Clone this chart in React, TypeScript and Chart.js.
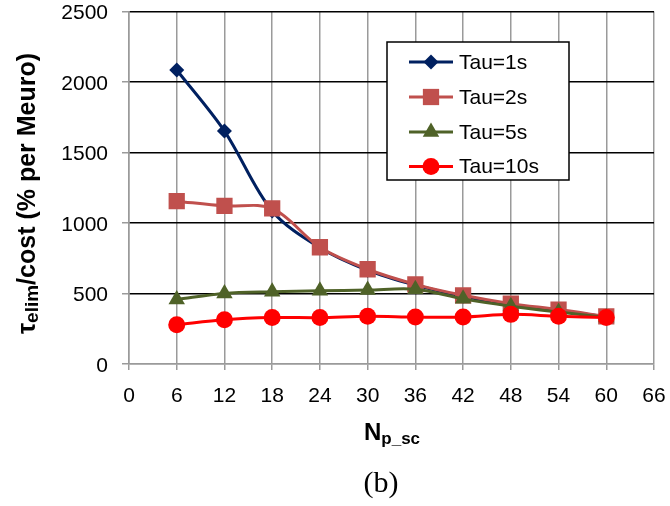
import React, { useEffect, useRef } from "react";
import { Chart, registerables } from "chart.js";

Chart.register(...registerables);

// ---------- data ----------
const xValues = [6, 12, 18, 24, 30, 36, 42, 48, 54, 60];
const seriesNames = ["Tau=1s", "Tau=2s", "Tau=5s", "Tau=10s"];
const tau1 = [2085, 1652, 1085, 825, 665, 560, 480, 420, 378, 335];
const tau2 = [1155, 1121, 1103, 828, 672, 565, 487, 428, 386, 337];
const tau5 = [458, 500, 512, 519, 524, 530, 462, 410, 368, 330];
const tau10 = [279, 314, 329, 329, 338, 333, 333, 352, 338, 329];
const xTicks = [0, 6, 12, 18, 24, 30, 36, 42, 48, 54, 60, 66];
const yTicks = [0, 500, 1000, 1500, 2000, 2500];
const xTitleMain = "N";
const xTitleSub = "p_sc";
const yTitleParts = ["τ", "elim", "/cost (% per Meuro)"];
const caption = "(b)";

// ---------- styles ----------
const colors = ["#002060", "#C0504D", "#4F6228", "#FF0000"];
const pointStyles = ["rectRot", "rect", "triangle", "circle"];
const pointRadii = [7.5, 11.5, 9.5, 8.5];
const FONT = '"Liberation Sans", Arial, sans-serif';
const GRAY = "#9a9a9a";

function drawMarker(ctx: CanvasRenderingContext2D, style: string, x: number, y: number, r: number) {
  ctx.beginPath();
  if (style === "circle") {
    ctx.arc(x, y, r, 0, Math.PI * 2);
  } else if (style === "rect") {
    const s = Math.SQRT1_2 * r;
    ctx.rect(x - s, y - s, 2 * s, 2 * s);
  } else if (style === "rectRot") {
    ctx.moveTo(x, y - r);
    ctx.lineTo(x + r, y);
    ctx.lineTo(x, y + r);
    ctx.lineTo(x - r, y);
    ctx.closePath();
  } else if (style === "triangle") {
    let a = 0;
    ctx.moveTo(x + Math.sin(a) * r, y - Math.cos(a) * r);
    a += (2 * Math.PI) / 3;
    ctx.lineTo(x + Math.sin(a) * r, y - Math.cos(a) * r);
    a += (2 * Math.PI) / 3;
    ctx.lineTo(x + Math.sin(a) * r, y - Math.cos(a) * r);
    ctx.closePath();
  }
  ctx.fill();
}

const decorPlugin = {
  id: "decor",
  afterDraw(chart: any) {
    const ctx: CanvasRenderingContext2D = chart.ctx;
    ctx.save();

    // legend box
    const bx = 387, by = 42, bw = 182, bh = 138;
    ctx.fillStyle = "#fff";
    ctx.fillRect(bx, by, bw, bh);
    ctx.strokeStyle = "#000";
    ctx.lineWidth = 1.5;
    ctx.strokeRect(bx, by, bw, bh);
    const itemY = [62, 97, 132, 166.5];
    seriesNames.forEach((name, i) => {
      const y = itemY[i];
      ctx.strokeStyle = colors[i];
      ctx.lineWidth = 3;
      ctx.beginPath();
      ctx.moveTo(409, y);
      ctx.lineTo(453, y);
      ctx.stroke();
      ctx.fillStyle = colors[i];
      drawMarker(ctx, pointStyles[i], 431, y, pointRadii[i]);
      ctx.fillStyle = "#000";
      ctx.font = `21px ${FONT}`;
      ctx.textAlign = "left";
      ctx.textBaseline = "middle";
      ctx.fillText(name, 459, y + 1);
    });

    // y axis title (rotated, with subscript)
    ctx.save();
    ctx.translate(35, 193.5);
    ctx.rotate(-Math.PI / 2);
    ctx.textBaseline = "alphabetic";
    ctx.textAlign = "left";
    ctx.fillStyle = "#000";
    const parts = [
      { t: yTitleParts[0], f: `bold 25px ${FONT}`, dy: 0 },
      { t: yTitleParts[1], f: `bold 19px ${FONT}`, dy: 3 },
      { t: yTitleParts[2], f: `bold 25px ${FONT}`, dy: 0 },
    ];
    let total = 0;
    parts.forEach((p) => {
      ctx.font = p.f;
      total += ctx.measureText(p.t).width;
    });
    let px = -total / 2;
    parts.forEach((p) => {
      ctx.font = p.f;
      ctx.fillText(p.t, px, p.dy);
      px += ctx.measureText(p.t).width;
    });
    ctx.restore();

    // x axis title
    ctx.fillStyle = "#000";
    ctx.textBaseline = "alphabetic";
    ctx.textAlign = "left";
    ctx.font = `bold 24px ${FONT}`;
    const wMain = ctx.measureText(xTitleMain).width;
    ctx.font = `bold 17px ${FONT}`;
    const wSub = ctx.measureText(xTitleSub).width;
    const sx = 392 - (wMain + wSub) / 2;
    ctx.font = `bold 24px ${FONT}`;
    ctx.fillText(xTitleMain, sx, 440);
    ctx.font = `bold 17px ${FONT}`;
    ctx.fillText(xTitleSub, sx + wMain, 444);

    // caption
    ctx.font = `30px "Liberation Serif", "Times New Roman", serif`;
    ctx.textAlign = "center";
    ctx.fillText(caption, 381, 492);

    ctx.restore();
  },
};

function zeroPadding(scale: any) {
  scale.paddingTop = 0;
  scale.paddingBottom = 0;
  scale.paddingLeft = 0;
  scale.paddingRight = 0;
}

export default function App() {
  const canvasRef = useRef<HTMLCanvasElement | null>(null);

  useEffect(() => {
    if (!canvasRef.current) return;
    const series = [tau1, tau2, tau5, tau10];
    const chart = new Chart(canvasRef.current, {
      type: "line",
      data: {
        datasets: series.map((vals, i) => ({
          label: seriesNames[i],
          data: xValues.map((x, j) => ({ x, y: vals[j] })),
          borderColor: colors[i],
          backgroundColor: colors[i],
          borderWidth: 3,
          pointStyle: pointStyles[i] as any,
          pointRadius: pointRadii[i],
          pointBorderWidth: 0,
          pointBackgroundColor: colors[i],
          pointBorderColor: colors[i],
          tension: 0.33,
          fill: false,
          order: 4 - i,
        })),
      },
      options: {
        responsive: false,
        animation: false,
        devicePixelRatio: 1,
        layout: { padding: { left: 0, top: 11, right: 16, bottom: 0 } },
        plugins: {
          legend: { display: false },
          tooltip: { enabled: false },
          title: { display: false },
        },
        scales: {
          x: {
            type: "linear",
            min: 0,
            max: 66,
            afterBuildTicks: (scale: any) => {
              scale.ticks = xTicks.map((v) => ({ value: v }));
            },
            afterFit: (scale: any) => {
              scale.height = 142;
              zeroPadding(scale);
            },
            grid: {
              color: GRAY,
              lineWidth: 1.5,
              tickLength: 6,
              tickColor: GRAY,
              drawTicks: true,
            },
            border: { color: GRAY, width: 1.5 },
            ticks: {
              color: "#000",
              font: { family: FONT, size: 21, lineHeight: 1 },
              padding: 16,
              maxRotation: 0,
              autoSkip: false,
              callback: (v: any) => String(v),
            },
          },
          y: {
            type: "linear",
            min: 0,
            max: 2500,
            afterBuildTicks: (scale: any) => {
              scale.ticks = yTicks.map((v) => ({ value: v }));
            },
            afterFit: (scale: any) => {
              scale.width = 129;
              zeroPadding(scale);
            },
            grid: {
              color: (c: any) => (c.tick && c.tick.value === 0 ? GRAY : "#000"),
              lineWidth: 1.5,
              tickLength: 7,
              tickColor: GRAY,
              drawTicks: true,
            },
            border: { color: GRAY, width: 1.5 },
            ticks: {
              color: "#000",
              font: { family: FONT, size: 21, lineHeight: 1 },
              padding: 14,
              labelOffset: 2,
              autoSkip: false,
              callback: (v: any) => String(v),
            },
          },
        },
      },
      plugins: [decorPlugin],
    });
    return () => chart.destroy();
  }, []);

  return (
    <div style={{ position: "absolute", left: 0, top: 0, width: 670, height: 506, background: "#fff" }}>
      <canvas ref={canvasRef} width={670} height={506} style={{ width: 670, height: 506, display: "block" }} />
    </div>
  );
}
